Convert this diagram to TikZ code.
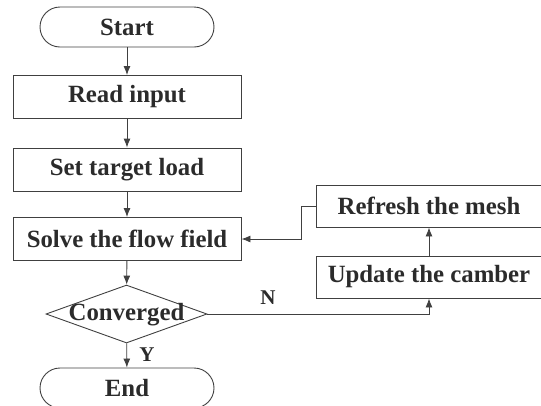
\documentclass[tikz,border=0pt]{standalone}
\usepackage{fontspec}
\setmainfont{Liberation Serif}
\usetikzlibrary{arrows.meta,shapes.geometric}
\definecolor{linec}{HTML}{404040}
\definecolor{textc}{HTML}{2B2B2B}
\begin{document}
\begin{tikzpicture}[x=1pt,y=-1pt,
  every node/.style={font=\bfseries\fontsize{24.8}{27}\selectfont, text=textc},
  box/.style={draw=linec, line width=0.9pt, rectangle, minimum width=228pt, minimum height=43pt, inner sep=0pt},
  sidebox/.style={draw=linec, line width=0.9pt, rectangle, minimum width=226pt, minimum height=42pt, inner sep=0pt},
  term/.style={draw=linec, line width=0.9pt, rectangle, rounded corners=20pt, minimum width=174pt, minimum height=40pt, inner sep=0pt},
  dec/.style={draw=linec, line width=0.9pt, diamond, minimum width=161pt, minimum height=58pt, inner sep=0pt},
  conn/.style={draw=linec, line width=0.9pt, -{Latex[length=9pt,width=7pt]}},
  lbl/.style={font=\bfseries\fontsize{21}{24}\selectfont}
]
\useasboundingbox (0,0) rectangle (541,405);
\clip (0,0) rectangle (541,405);
\node[term] (start) at (127,27) {Start};
\node[box] (read) at (127,97) {Read input};
\node[box] (set) at (127,169.5) {Set target load};
\node[box] (solve) at (127,239) {Solve the flow field};
\node[dec, label={[yshift=-1pt]center:Converged}] (conv) at (126.5,314) {};
\node[term] (end) at (127,388) {End};
\node[sidebox] (refresh) at (429,206) {Refresh the mesh};
\node[sidebox] (update) at (429,277) {Update the camber};
\coordinate (nturn) at (429,314);
\coordinate (r1) at (301,206);
\coordinate (r2) at (301,239);
\draw[conn] (start) -- (read);
\draw[conn] (read) -- (set);
\draw[conn] (set) -- (solve);
\draw[conn] (solve) -- (conv);
\draw[conn] (conv) -- (end);
\node[lbl] (ylab) at (147,355) {Y};
\draw[conn] (conv.east) -- (nturn) -- (update.south);
\node[lbl] (nlab) at (268,298) {N};
\draw[conn] (update) -- (refresh);
\draw[conn] (refresh.west) -- (r1) -- (r2) -- (solve.east);
\end{tikzpicture}
\end{document}
